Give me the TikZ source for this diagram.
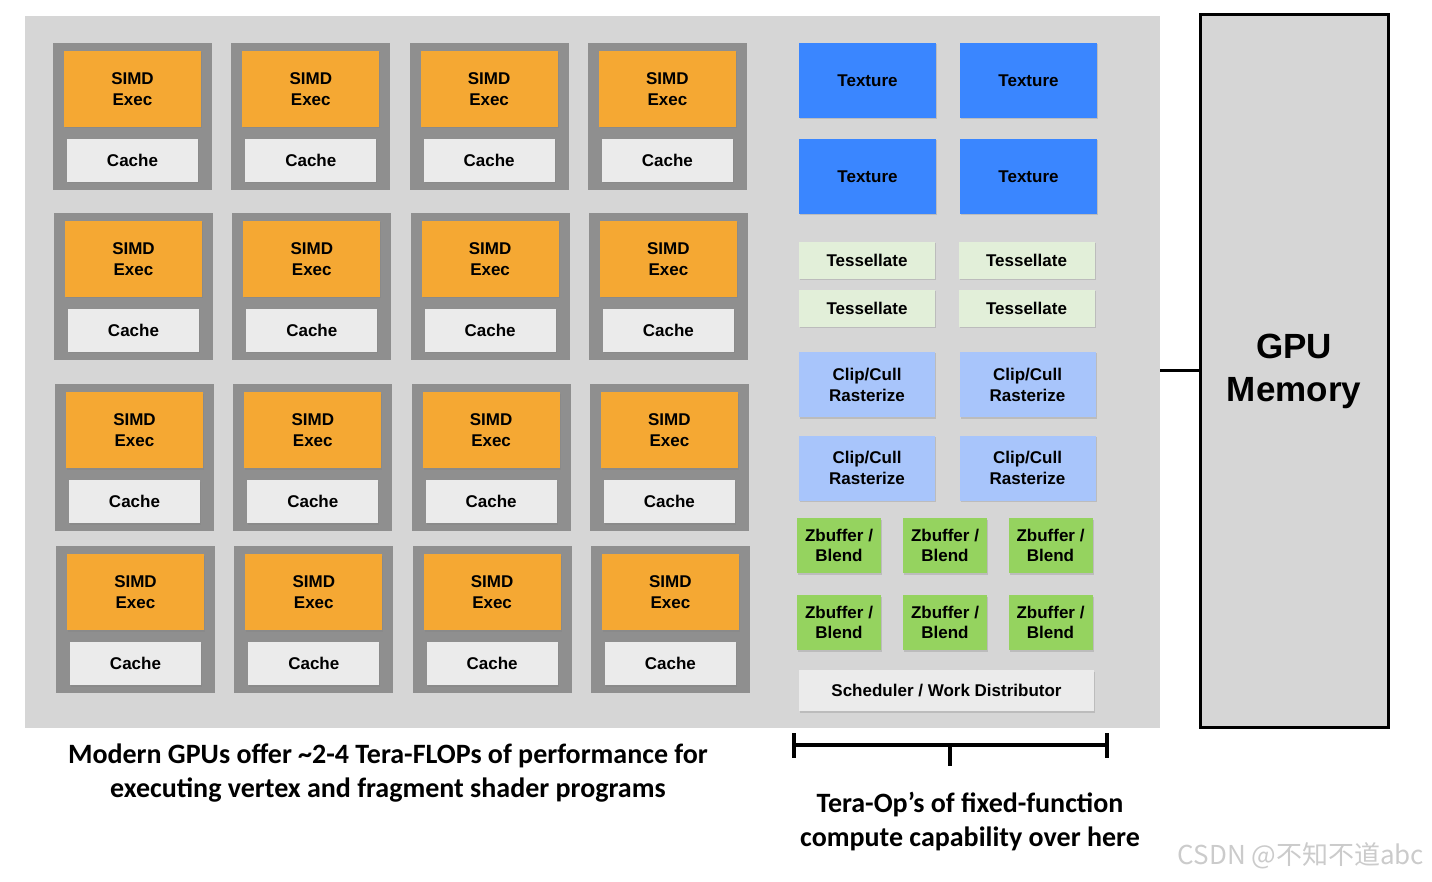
\documentclass[tikz,border=0pt]{standalone}
\usepackage{fontspec}
\usepackage{tikz}
\usetikzlibrary{positioning,shadows}
\newfontfamily\helvfont{Liberation Sans}
\newfontfamily\capfont{Carlito}
\newfontfamily\cjkfont{Noto Sans CJK SC}
\definecolor{panelgray}{HTML}{D6D6D6}
\definecolor{coregray}{HTML}{8F8F8F}
\definecolor{simdorange}{HTML}{F5A833}
\definecolor{cachegray}{HTML}{EBEBEB}
\definecolor{texblue}{HTML}{3A86FF}
\definecolor{tessgreen}{HTML}{E2EFD9}
\definecolor{clipblue}{HTML}{A8C5FB}
\definecolor{zbufgreen}{HTML}{95D35F}
\definecolor{wmgray}{HTML}{CBCBCB}

\begin{document}
\begin{tikzpicture}[
  x=1pt,y=-1pt,
  font=\helvfont\bfseries\fontsize{17}{21}\selectfont,
  unit/.style={inner sep=0pt,align=center,
    drop shadow={shadow xshift=1pt,shadow yshift=-1.5pt,opacity=0.3}},
  core/.style={fill=coregray,inner sep=0pt,minimum width=159pt,minimum height=147pt},
  simd/.style={unit,fill=simdorange,minimum width=137pt,minimum height=76pt},
  cache/.style={unit,fill=cachegray,minimum width=131pt,minimum height=43pt},
  texture/.style={unit,fill=texblue,minimum width=137pt,minimum height=75pt},
  tess/.style={unit,fill=tessgreen,minimum width=136pt,minimum height=37pt},
  clip/.style={unit,fill=clipblue,minimum width=136pt,minimum height=65pt},
  zbuf/.style={unit,fill=zbufgreen,minimum width=84pt,minimum height=55pt,
    font=\helvfont\bfseries\fontsize{17}{20}\selectfont},
  sched/.style={unit,fill=cachegray,minimum width=295pt,minimum height=41pt},
  caption/.style={align=center,font=\capfont\bfseries\fontsize{28}{34}\selectfont}
]
\useasboundingbox (0,0) rectangle (1432,882);
\node[fill=panelgray,inner sep=0pt,minimum width=1135pt,minimum height=712pt] (panel) at (592.5,372) {};

% programmable cores
\foreach \r/\y in {1/116.5,2/286.5,3/457.5,4/619.5}
  \foreach \c in {1,...,4} {
    \node[core] (core-\r-\c) at ({132.5+178.3*(\c-1)+(\r-1)},\y) {};
    \node[simd,below=8pt of core-\r-\c.north] (simd-\r-\c) {SIMD\\Exec};
    \node[cache,above=8pt of core-\r-\c.south] (cache-\r-\c) {Cache};
  }

% fixed-function units
\node[texture] (tex-1) at (867.5,80.5) {Texture};
\node[texture] (tex-2) at (1028.5,80.5) {Texture};
\node[texture] (tex-3) at (867.5,176.5) {Texture};
\node[texture] (tex-4) at (1028.5,176.5) {Texture};
\node[tess] (tess-1) at (867,260.5) {Tessellate};
\node[tess] (tess-2) at (1026.5,260.5) {Tessellate};
\node[tess] (tess-3) at (867,308.5) {Tessellate};
\node[tess] (tess-4) at (1026.5,308.5) {Tessellate};
\node[clip] (clip-1) at (867,384.5) {Clip/Cull\\Rasterize};
\node[clip] (clip-2) at (1027.5,384.5) {Clip/Cull\\Rasterize};
\node[clip] (clip-3) at (867,468) {Clip/Cull\\Rasterize};
\node[clip] (clip-4) at (1027.5,468) {Clip/Cull\\Rasterize};
\node[zbuf] (zbuf-1) at (839,545.5) {Zbuffer /\\Blend};
\node[zbuf] (zbuf-2) at (945,545.5) {Zbuffer /\\Blend};
\node[zbuf] (zbuf-3) at (1050.5,545.5) {Zbuffer /\\Blend};
\node[zbuf] (zbuf-4) at (839,622.5) {Zbuffer /\\Blend};
\node[zbuf] (zbuf-5) at (945,622.5) {Zbuffer /\\Blend};
\node[zbuf] (zbuf-6) at (1050.5,622.5) {Zbuffer /\\Blend};
\node[sched] (sched) at (946.5,690.5) {Scheduler / Work Distributor};

% memory
\node[draw,line width=3pt,fill=panelgray,minimum width=188pt,minimum height=712pt,
  align=center,font=\helvfont\bfseries\fontsize{35}{43}\selectfont] (memory) at (1294,371) {GPU\\Memory};
\draw[line width=3pt] (panel.east |- memory.west) -- (memory.west);

% bracket
\coordinate (brl) at (794,745);
\coordinate (brr) at (1107,745);
\coordinate (brm) at (950,745);
\draw[line width=4.5pt] (brl) -- (brr);
\draw[line width=4.5pt] ([yshift=12pt]brl) -- ([yshift=-13pt]brl);
\draw[line width=4.5pt] ([yshift=12pt]brr) -- ([yshift=-13pt]brr);
\draw[line width=4.5pt] (brm) -- ([yshift=-21pt]brm);

% captions
\node[caption] (cap-left) at (388,773) {Modern GPUs offer \textasciitilde2-4 Tera-FLOPs of performance for\\executing vertex and fragment shader programs};
\node[caption] (cap-right) at (970,822) {Tera-Op’s of fixed-function\\compute capability over here};
\node[text=wmgray,font=\cjkfont\fontsize{26}{30}\selectfont] (watermark) at (1301,856) {CSDN @不知不道abc};
\end{tikzpicture}
\end{document}
